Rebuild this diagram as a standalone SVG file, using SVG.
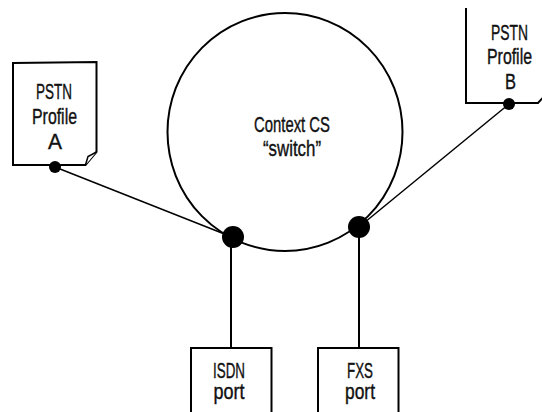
<svg xmlns="http://www.w3.org/2000/svg" width="542" height="412" viewBox="0 0 542 412">
  <style>
    .box { fill: #ffffff; stroke: #000000; stroke-width: 2; stroke-linejoin: miter; }
    .conn { fill: none; stroke: #000000; stroke-width: 1.5; }
    .vline { fill: none; stroke: #000000; stroke-width: 2; }
    .dot { fill: #000000; }
    .lbl { font-family: "Liberation Sans", Arial, sans-serif; font-size: 22px; fill: #111111; stroke: #111111; stroke-width: 0.4; text-anchor: middle; }
  </style>
  <rect width="542" height="412" fill="#ffffff"/>

  <g id="context-cs">
    <ellipse cx="285" cy="132" rx="117.5" ry="119" fill="#ffffff" stroke="#000000" stroke-width="2"/>
    <text class="lbl" x="292" y="132" textLength="76" lengthAdjust="spacingAndGlyphs">Context CS</text>
    <text class="lbl" x="292" y="156" textLength="58" lengthAdjust="spacingAndGlyphs">“switch”</text>
  </g>

  <g id="connectors">
    <line class="conn" x1="55" y1="167" x2="232" y2="237"/>
    <line class="conn" x1="509" y1="104" x2="359" y2="227"/>
    <line class="vline" x1="231" y1="237" x2="231" y2="348"/>
    <line class="vline" x1="359" y1="227" x2="359" y2="348"/>
  </g>

  <g id="profile-a">
    <path class="box" d="M13,63 L96.5,62 L96.5,152 L85.5,165 L13,165 Z"/>
    <path class="box" d="M96.5,152 L88,156.5 L85.5,165" style="stroke-width:1.5"/>
    <text class="lbl" x="54" y="99" textLength="36" lengthAdjust="spacingAndGlyphs">PSTN</text>
    <text class="lbl" x="54.5" y="124" textLength="45" lengthAdjust="spacingAndGlyphs">Profile</text>
    <text class="lbl" x="55" y="149" textLength="14" lengthAdjust="spacingAndGlyphs">A</text>
    <circle class="dot" cx="55" cy="167" r="6"/>
  </g>

  <g id="profile-b">
    <path class="box" d="M466,8 L466,103 L538,103 L549,91" style="fill:none"/>
    <text class="lbl" x="509.5" y="40" textLength="37" lengthAdjust="spacingAndGlyphs">PSTN</text>
    <text class="lbl" x="509.5" y="64" textLength="45" lengthAdjust="spacingAndGlyphs">Profile</text>
    <text class="lbl" x="510.5" y="89" textLength="11" lengthAdjust="spacingAndGlyphs">B</text>
    <circle class="dot" cx="509" cy="104" r="6"/>
  </g>

  <g id="port-dots">
    <circle class="dot" cx="233" cy="237" r="11"/>
    <circle class="dot" cx="359" cy="227" r="11"/>
  </g>

  <g id="isdn-port">
    <rect class="box" x="191" y="348" width="80.5" height="70"/>
    <text class="lbl" x="229" y="378" textLength="32" lengthAdjust="spacingAndGlyphs">ISDN</text>
    <text class="lbl" x="229" y="399" textLength="31" lengthAdjust="spacingAndGlyphs">port</text>
  </g>

  <g id="fxs-port">
    <rect class="box" x="318" y="348" width="80.5" height="70"/>
    <text class="lbl" x="360" y="378" textLength="26" lengthAdjust="spacingAndGlyphs">FXS</text>
    <text class="lbl" x="360" y="399" textLength="30" lengthAdjust="spacingAndGlyphs">port</text>
  </g>
</svg>
